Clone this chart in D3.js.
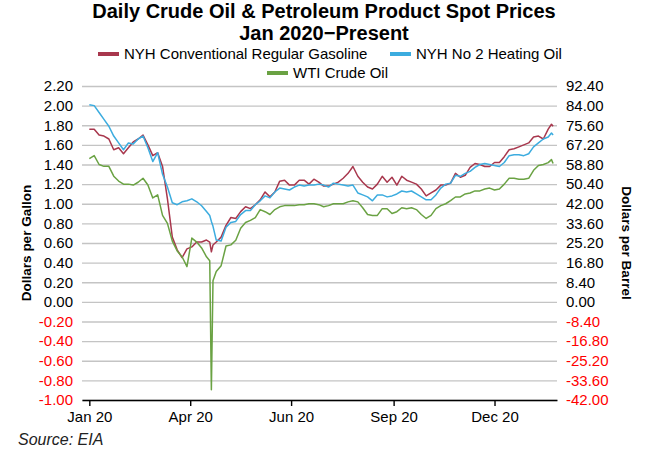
<!DOCTYPE html>
<html>
<head>
<meta charset="utf-8">
<script src="https://cdn.jsdelivr.net/npm/d3@7"></script>
<style>
body { margin: 0; background: #fff; }
svg { font-family: "Liberation Sans", Arial, sans-serif; }
</style>
</head>
<body>
<div id="chart"></div>
<script>
// trading-day index since Jan 2 2020
var days = [
    0, 3, 6, 9, 12, 15, 18, 21, 24, 27,
    30, 33, 36, 39, 42, 45, 48, 51, 54, 57,
    60, 63, 66, 69, 72, 74, 75, 76, 78, 81,
    84, 87, 90, 93, 96, 99, 102, 105, 108, 111,
    114, 117, 120, 123, 126, 129, 132, 135, 138, 141,
    144, 147, 150, 153, 156, 159, 162, 165, 168, 171,
    174, 177, 180, 183, 186, 189, 192, 195, 198, 201,
    204, 207, 210, 213, 216, 219, 222, 225, 228, 231,
    234, 237, 240, 243, 246, 249, 252, 255, 258, 261,
    264, 267, 270, 273, 276, 279, 282, 284, 285
];

// $/gallon
var gasoline = [
    1.76, 1.76, 1.70, 1.69, 1.66, 1.55, 1.57, 1.51, 1.57, 1.63,
    1.66, 1.70, 1.60, 1.49, 1.52, 1.38, 1.05, 0.66, 0.53, 0.45,
    0.54, 0.56, 0.61, 0.61, 0.63, 0.61, 0.51, 0.58, 0.61, 0.66,
    0.78, 0.86, 0.85, 0.92, 0.97, 0.95, 0.99, 1.04, 1.12, 1.07,
    1.12, 1.23, 1.24, 1.19, 1.19, 1.24, 1.24, 1.20, 1.25, 1.22,
    1.18, 1.18, 1.20, 1.22, 1.26, 1.31, 1.38, 1.28, 1.22, 1.17,
    1.15, 1.20, 1.28, 1.22, 1.27, 1.19, 1.28, 1.24, 1.22, 1.20,
    1.15, 1.08, 1.11, 1.14, 1.19, 1.19, 1.21, 1.31, 1.27, 1.29,
    1.37, 1.41, 1.40, 1.38, 1.38, 1.42, 1.42, 1.48, 1.55, 1.56,
    1.58, 1.60, 1.62, 1.68, 1.69, 1.66, 1.76, 1.81, 1.79
];

// $/gallon
var heatingOil = [
    2.01, 2.00, 1.93, 1.86, 1.79, 1.69, 1.62, 1.55, 1.62, 1.61,
    1.66, 1.69, 1.57, 1.43, 1.52, 1.30, 1.17, 1.01, 0.99, 1.02,
    1.03, 1.05, 1.02, 0.98, 0.92, 0.88, 0.82, 0.77, 0.63, 0.62,
    0.76, 0.81, 0.82, 0.89, 0.93, 0.93, 0.99, 1.03, 1.08, 1.06,
    1.12, 1.16, 1.15, 1.14, 1.17, 1.19, 1.18, 1.19, 1.19, 1.20,
    1.19, 1.17, 1.21, 1.20, 1.19, 1.18, 1.19, 1.11, 1.09, 1.07,
    1.03, 1.09, 1.09, 1.07, 1.08, 1.10, 1.13, 1.12, 1.13, 1.10,
    1.07, 1.04, 1.04, 1.09, 1.16, 1.20, 1.21, 1.29, 1.28, 1.31,
    1.33, 1.37, 1.40, 1.41, 1.40, 1.39, 1.38, 1.42, 1.49, 1.50,
    1.50, 1.49, 1.51, 1.58, 1.62, 1.66, 1.68, 1.72, 1.70
];

// $/barrel
var wti = [
    61.3, 62.6, 58.8, 58.0, 58.0, 53.8, 51.7, 50.4, 50.4, 50.0,
    51.2, 52.9, 50.0, 44.5, 45.8, 37.0, 33.6, 26.0, 21.8, 19.3,
    15.1, 27.3, 25.6, 23.1, 19.3, 17.6, -37.6, 9.0, 13.0, 15.5,
    23.9, 24.4, 26.4, 31.5, 34.0, 34.9, 36.1, 39.5, 38.6, 37.4,
    39.5, 40.7, 41.2, 41.2, 41.2, 41.6, 41.6, 42.0, 42.0, 41.6,
    40.7, 41.2, 42.0, 42.0, 42.0, 42.8, 43.3, 42.8, 40.3, 37.4,
    37.0, 37.0, 39.9, 39.9, 37.8, 38.6, 40.3, 39.9, 40.3, 39.5,
    37.4, 35.7, 37.0, 39.9, 41.2, 42.0, 43.3, 44.9, 44.9, 46.2,
    46.6, 47.5, 47.5, 48.3, 48.7, 47.9, 48.3, 50.4, 52.9, 52.9,
    52.5, 52.5, 52.9, 56.3, 58.4, 58.8, 59.6, 60.9, 59.2
];

var xTicks = [0, 62, 124, 187, 249];
var xLabels = ["Jan 20", "Apr 20", "Jun 20", "Sep 20", "Dec 20"];
var leftTicks = [-1.0, -0.8, -0.6, -0.4, -0.2, 0.0, 0.2, 0.4, 0.6, 0.8, 1.0, 1.2, 1.4, 1.6, 1.8, 2.0, 2.2];
var rightTicks = [-42.0, -33.6, -25.2, -16.8, -8.4, 0.0, 8.4, 16.8, 25.2, 33.6, 42.0, 50.4, 58.8, 67.2, 75.6, 84.0, 92.4];

var seriesNames = ["NYH Conventional Regular Gasoline", "NYH No 2 Heating Oil", "WTI Crude Oil"];
var seriesColors = ["#a8374d", "#3cacdf", "#6aa243"];

var width = 648, height = 450;
var plot = {left: 82, right: 557, top: 86, bottom: 400};

var svg = d3.select("#chart").append("svg")
    .attr("width", width)
    .attr("height", height);

var x = d3.scaleLinear().domain([-4.5, 287.4]).range([plot.left, plot.right]);
var yL = d3.scaleLinear().domain([-1, 2.2]).range([plot.bottom, plot.top]);
var yR = d3.scaleLinear().domain([-42, 92.4]).range([plot.bottom, plot.top]);

function fmt(d) { return d.toFixed(2); }
function signColor(d) { return d < 0 ? "#ff0000" : "#000"; }

// gridlines
svg.append("g")
    .attr("transform", "translate(" + plot.left + ",0)")
    .call(d3.axisLeft(yL).tickValues(leftTicks).tickSize(-(plot.right - plot.left)).tickFormat(""))
    .call(function(g) { g.select(".domain").remove(); })
    .selectAll("line")
    .attr("stroke", "#c4c4c4")
    .attr("stroke-width", 1.4);

// left axis labels
var gl = svg.append("g")
    .attr("transform", "translate(" + plot.left + ",0)")
    .call(d3.axisLeft(yL).tickValues(leftTicks).tickSize(0).tickPadding(9).tickFormat(fmt));
gl.select(".domain").remove();
gl.selectAll("text")
    .style("font-size", "15px")
    .style("font-family", "Liberation Sans, Arial, sans-serif")
    .attr("fill", signColor);

// right axis labels
var gr = svg.append("g")
    .attr("transform", "translate(" + plot.right + ",0)")
    .call(d3.axisRight(yR).tickValues(rightTicks).tickSize(0).tickPadding(9).tickFormat(fmt));
gr.select(".domain").remove();
gr.selectAll("text")
    .style("font-size", "15px")
    .style("font-family", "Liberation Sans, Arial, sans-serif")
    .attr("fill", signColor);

// series lines
var lineL = d3.line()
    .x(function(d, i) { return x(days[i]); })
    .y(function(d) { return yL(d); });
var lineR = d3.line()
    .x(function(d, i) { return x(days[i]); })
    .y(function(d) { return yR(d); });

svg.append("path").datum(gasoline)
    .attr("d", lineL)
    .attr("fill", "none")
    .attr("stroke", seriesColors[0])
    .attr("stroke-width", 1.5)
    .attr("stroke-linejoin", "round");

svg.append("path").datum(heatingOil)
    .attr("d", lineL)
    .attr("fill", "none")
    .attr("stroke", seriesColors[1])
    .attr("stroke-width", 1.5)
    .attr("stroke-linejoin", "round");

svg.append("path").datum(wti)
    .attr("d", lineR)
    .attr("fill", "none")
    .attr("stroke", seriesColors[2])
    .attr("stroke-width", 1.5)
    .attr("stroke-linejoin", "round");

// x axis
var gx = svg.append("g")
    .attr("transform", "translate(0," + plot.bottom + ")")
    .call(d3.axisBottom(x).tickValues(xTicks).tickSize(6).tickSizeOuter(0).tickPadding(5)
        .tickFormat(function(d, i) { return xLabels[i]; }));
gx.select(".domain").attr("stroke", "#000").attr("stroke-width", 1.6);
gx.selectAll(".tick line").attr("stroke", "#000").attr("stroke-width", 1.4);
gx.selectAll("text")
    .style("font-size", "15px")
    .style("font-family", "Liberation Sans, Arial, sans-serif")
    .attr("fill", "#000");

// titles
svg.append("text")
    .attr("x", width / 2).attr("y", 18)
    .attr("text-anchor", "middle")
    .style("font-size", "20px").style("font-weight", "bold")
    .text("Daily Crude Oil & Petroleum Product Spot Prices");
svg.append("text")
    .attr("x", width / 2).attr("y", 40)
    .attr("text-anchor", "middle")
    .style("font-size", "20px").style("font-weight", "bold")
    .text("Jan 2020\u2212Present");

// legend
var legendPos = [{x: 98, y: 54}, {x: 390, y: 54}, {x: 267, y: 73}];
var legend = svg.selectAll(".legend")
    .data(seriesNames)
    .enter().append("g")
    .attr("class", "legend")
    .attr("transform", function(d, i) {
        return "translate(" + legendPos[i].x + "," + legendPos[i].y + ")";
    });
legend.append("line")
    .attr("x1", 0).attr("x2", 21)
    .attr("y1", 0).attr("y2", 0)
    .attr("stroke", function(d, i) { return seriesColors[i]; })
    .attr("stroke-width", 4);
legend.append("text")
    .attr("x", 26).attr("y", 0).attr("dy", "0.35em")
    .style("font-size", "15px")
    .text(function(d) { return d; });

// axis titles
svg.append("text")
    .attr("transform", "translate(31,243) rotate(-90)")
    .attr("text-anchor", "middle")
    .style("font-size", "13.5px").style("font-weight", "bold")
    .text("Dollars per Gallon");
svg.append("text")
    .attr("transform", "translate(622,243) rotate(90)")
    .attr("text-anchor", "middle")
    .style("font-size", "13.5px").style("font-weight", "bold")
    .text("Dollars per Barrel");

// source
svg.append("text")
    .attr("x", 18).attr("y", 445)
    .style("font-size", "16px").style("font-style", "italic")
    .attr("fill", "#222")
    .text("Source: EIA");
</script>
</body>
</html>
